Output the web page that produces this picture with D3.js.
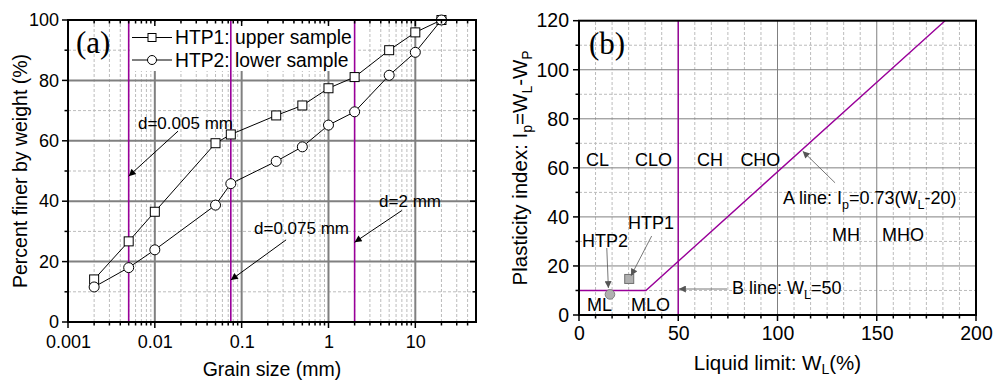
<!DOCTYPE html>
<html>
<head>
<meta charset="utf-8">
<script src="https://cdn.jsdelivr.net/npm/d3@7/dist/d3.min.js"></script>
<style>
  html, body { margin: 0; padding: 0; background: #fff; }
  svg { display: block; font-family: "Liberation Sans", Arial, sans-serif; }
</style>
</head>
<body>
<svg id="chart" width="993" height="380"></svg>
<script>
// ---- Panel (a): grain size distribution ----
const grainSize = [0.002, 0.005, 0.01, 0.05, 0.075, 0.25, 0.5, 1, 2, 5, 10, 20];
const htp1Finer = [14.1, 26.7, 36.5, 59.2, 62.1, 68.4, 71.7, 77.4, 81.1, 90.0, 95.9, 100];
const htp2Finer = [11.6, 18.0, 23.9, 38.7, 45.8, 53.2, 58.0, 65.2, 69.6, 81.7, 89.3, 100];
const seriesNames = ["HTP1: upper sample", "HTP2: lower sample"];
const gradeSizes = [0.005, 0.075, 2];
const gradeLabels = ["d=0.005 mm", "d=0.075 mm", "d=2 mm"];
const grainTicks = [0.001, 0.01, 0.1, 1, 10];
const grainTickLabels = ["0.001", "0.01", "0.1", "1", "10"];
const finerTicks = [0, 20, 40, 60, 80, 100];

// ---- Panel (b): plasticity chart ----
const sampleNames = ["HTP1", "HTP2"];
const sampleWL = [25.3, 15.6];
const sampleIp = [14.7, 8.4];
const aLineWL = [0, 33.7, 184.4];
const aLineIp = [10, 10, 120];
const bLineWL = 50;
const zoneNames = ["CL", "CLO", "CH", "CHO", "MH", "MHO", "ML", "MLO"];
const wlTicks = [0, 50, 100, 150, 200];
const ipTicks = [0, 20, 40, 60, 80, 100, 120];

const PURPLE = "#990099";
const GRID = "#808080";
const MINOR = "#bcbcbc";
const TICKA = 18;     // tick labels, panel (a)
const TICKB = 19.5;   // tick labels, panel (b)
const TITLE = 19.5;   // axis titles
const NOTE = 18;      // in-plot labels

const svg = d3.select("#chart");
const defs = svg.append("defs");
function marker(id, color) {
  defs.append("marker").attr("id", id)
    .attr("viewBox", "0 0 10 10").attr("refX", 10).attr("refY", 5)
    .attr("markerWidth", 9).attr("markerHeight", 7).attr("markerUnits", "userSpaceOnUse")
    .attr("orient", "auto")
    .append("path").attr("d", "M0,0 L10,5 L0,10 z").attr("fill", color);
}
marker("arrK", "#000");
marker("arrG", "#555");

function arrow(g, x1, y1, x2, y2, color, id, w) {
  g.append("line").attr("x1", x1).attr("y1", y1).attr("x2", x2).attr("y2", y2)
    .attr("stroke", color).attr("stroke-width", w).attr("marker-end", `url(#${id})`);
}
function sub(t, s, size, shift) {
  t.append("tspan").attr("font-size", size).attr("dy", shift).text(s);
}

// ================= Panel (a) =================
{
  const x = d3.scaleLog().domain([0.001, 50]).range([68, 476]);
  const y = d3.scaleLinear().domain([0, 100]).range([322, 20]);
  const g = svg.append("g");
  const [x0, x1] = x.range(), [y0, y1] = y.range();

  // minor log positions 2..9 in every decade
  const minorX = [];
  for (let e = -3; e <= 1; e++) for (let m = 2; m <= 9; m++) {
    const v = m * Math.pow(10, e);
    if (v < 50) minorX.push(v);
  }
  const minorY = [10, 30, 50, 70, 90];

  // dashed minor grid
  g.selectAll(".mgx").data(minorX).join("line")
    .attr("x1", d => x(d)).attr("x2", d => x(d)).attr("y1", y0).attr("y2", y1)
    .attr("stroke", MINOR).attr("stroke-width", 1).attr("stroke-dasharray", "3,2");
  g.selectAll(".mgy").data(minorY).join("line")
    .attr("x1", x0).attr("x2", x1).attr("y1", d => y(d)).attr("y2", d => y(d))
    .attr("stroke", MINOR).attr("stroke-width", 1).attr("stroke-dasharray", "3,2");
  // solid major grid
  g.selectAll(".Mgx").data(grainTicks.slice(1)).join("line")
    .attr("x1", d => x(d)).attr("x2", d => x(d)).attr("y1", y0).attr("y2", y1)
    .attr("stroke", GRID).attr("stroke-width", 2);
  g.selectAll(".Mgy").data(finerTicks.slice(1, -1)).join("line")
    .attr("x1", x0).attr("x2", x1).attr("y1", d => y(d)).attr("y2", d => y(d))
    .attr("stroke", GRID).attr("stroke-width", 2);

  // legend backdrop hides grid
  g.append("rect").attr("x", 130).attr("y", 22).attr("width", 226).attr("height", 49).attr("fill", "#fff");

  // grade boundary lines
  g.selectAll(".grade").data(gradeSizes).join("line")
    .attr("x1", d => x(d)).attr("x2", d => x(d)).attr("y1", y0).attr("y2", y1)
    .attr("stroke", PURPLE).attr("stroke-width", 1.6);

  // curves
  const line = d3.line().x(d => x(d[0])).y(d => y(d[1]));
  const s1 = grainSize.map((d, i) => [d, htp1Finer[i]]);
  const s2 = grainSize.map((d, i) => [d, htp2Finer[i]]);
  [s1, s2].forEach(s => g.append("path").datum(s).attr("d", line)
    .attr("fill", "none").attr("stroke", "#000").attr("stroke-width", 1));
  g.selectAll(".sq").data(s1).join("rect")
    .attr("x", d => x(d[0]) - 4.5).attr("y", d => y(d[1]) - 4.5)
    .attr("width", 9).attr("height", 9).attr("fill", "#fff").attr("stroke", "#000").attr("stroke-width", 1);
  g.selectAll(".ci").data(s2).join("circle")
    .attr("cx", d => x(d[0])).attr("cy", d => y(d[1])).attr("r", 5)
    .attr("fill", "#fff").attr("stroke", "#000").attr("stroke-width", 1);

  // legend
  const leg = g.append("g");
  [37.5, 60].forEach((ly, i) => {
    leg.append("line").attr("x1", 132).attr("x2", 172).attr("y1", ly).attr("y2", ly)
      .attr("stroke", "#000").attr("stroke-width", 1);
    if (i === 0) leg.append("rect").attr("x", 148).attr("y", ly - 4).attr("width", 8).attr("height", 8)
      .attr("fill", "#fff").attr("stroke", "#000");
    else leg.append("circle").attr("cx", 152).attr("cy", ly).attr("r", 4.5)
      .attr("fill", "#fff").attr("stroke", "#000");
    leg.append("text").attr("x", 175).attr("y", ly).attr("dy", "0.35em")
      .attr("font-size", 19.3).attr("fill", "#000").text(seriesNames[i]);
  });

  // annotations
  const ann = [
    { t: gradeLabels[0], tx: 0.0064, ty: 66, ax: 0.0185, ay: 63.2, bx: 0.005, by: 48.3 },
    { t: gradeLabels[1], tx: 0.139, ty: 31.1, ax: 0.325, ay: 27.2, bx: 0.075, by: 13.9 },
    { t: gradeLabels[2], tx: 3.83, ty: 40.2, ax: 6.98, ay: 36.9, bx: 2, by: 26.4 }
  ];
  ann.forEach(a => {
    g.append("text").attr("x", x(a.tx)).attr("y", y(a.ty)).attr("dy", "0.35em")
      .attr("font-size", 17).attr("fill", "#000").text(a.t);
    arrow(g, x(a.ax), y(a.ay), x(a.bx), y(a.by), "#000", "arrK", 1);
  });

  g.append("text").attr("x", 76).attr("y", 53).attr("font-family", "Liberation Serif, Times New Roman, serif")
    .attr("font-size", 31).text("(a)");

  // frame
  g.append("rect").attr("x", x0).attr("y", y1).attr("width", x1 - x0).attr("height", y0 - y1)
    .attr("fill", "none").attr("stroke", "#000").attr("stroke-width", 2);

  // ticks: bottom/left outward, top/right inward
  const tk = g.append("g").attr("stroke", "#000").attr("stroke-width", 1.5);
  grainTicks.forEach(v => {
    tk.append("line").attr("x1", x(v)).attr("x2", x(v)).attr("y1", y0).attr("y2", y0 + 6);
    tk.append("line").attr("x1", x(v)).attr("x2", x(v)).attr("y1", y1).attr("y2", y1 + 6);
  });
  minorX.forEach(v => {
    tk.append("line").attr("x1", x(v)).attr("x2", x(v)).attr("y1", y0).attr("y2", y0 + 3.5);
    tk.append("line").attr("x1", x(v)).attr("x2", x(v)).attr("y1", y1).attr("y2", y1 + 3.5);
  });
  finerTicks.forEach(v => {
    tk.append("line").attr("x1", x0 - 6).attr("x2", x0).attr("y1", y(v)).attr("y2", y(v));
    tk.append("line").attr("x1", x1 - 6).attr("x2", x1).attr("y1", y(v)).attr("y2", y(v));
  });
  minorY.forEach(v => {
    tk.append("line").attr("x1", x0 - 3.5).attr("x2", x0).attr("y1", y(v)).attr("y2", y(v));
    tk.append("line").attr("x1", x1 - 3.5).attr("x2", x1).attr("y1", y(v)).attr("y2", y(v));
  });

  // tick labels via d3 axes
  const xa = g.append("g").attr("transform", `translate(0,${y0})`)
    .call(d3.axisBottom(x).tickValues(grainTicks).tickSize(0).tickPadding(13)
      .tickFormat((d, i) => grainTickLabels[i]));
  const ya = g.append("g").attr("transform", `translate(${x0},0)`)
    .call(d3.axisLeft(y).tickValues(finerTicks).tickSize(0).tickPadding(9));
  [xa, ya].forEach(a => {
    a.select(".domain").remove();
    a.selectAll("text").attr("font-size", TICKA).attr("fill", "#000")
      .attr("font-family", "Liberation Sans, Arial, sans-serif");
  });

  g.append("text").attr("x", (x0 + x1) / 2).attr("y", 369).attr("dy", "0.35em")
    .attr("text-anchor", "middle").attr("font-size", TITLE).text("Grain size (mm)");
  g.append("text").attr("transform", `translate(20,${(y0 + y1) / 2}) rotate(-90)`)
    .attr("dy", "0.35em").attr("text-anchor", "middle").attr("font-size", TITLE)
    .text("Percent finer by weight (%)");
}

// ================= Panel (b) =================
{
  const x = d3.scaleLinear().domain([0, 200]).range([579, 976]);
  const y = d3.scaleLinear().domain([0, 120]).range([315, 20.7]);
  const g = svg.append("g");
  const [x0, x1] = x.range(), [y0, y1] = y.range();

  const minorX = [];
  for (let k = 1; k < 24; k++) if (k % 6 !== 0) minorX.push(k * 50 / 6);
  const minorY = [10, 30, 50, 70, 90, 110];

  g.selectAll(".mgx").data(minorX).join("line")
    .attr("x1", d => x(d)).attr("x2", d => x(d)).attr("y1", y0).attr("y2", y1)
    .attr("stroke", MINOR).attr("stroke-width", 1).attr("stroke-dasharray", "3,2");
  g.selectAll(".mgy").data(minorY).join("line")
    .attr("x1", x0).attr("x2", x1).attr("y1", d => y(d)).attr("y2", d => y(d))
    .attr("stroke", MINOR).attr("stroke-width", 1).attr("stroke-dasharray", "3,2");
  g.selectAll(".Mgx").data(wlTicks.slice(1, -1)).join("line")
    .attr("x1", d => x(d)).attr("x2", d => x(d)).attr("y1", y0).attr("y2", y1)
    .attr("stroke", GRID).attr("stroke-width", 1);
  g.selectAll(".Mgy").data(ipTicks.slice(1, -1)).join("line")
    .attr("x1", x0).attr("x2", x1).attr("y1", d => y(d)).attr("y2", d => y(d))
    .attr("stroke", GRID).attr("stroke-width", 1);

  // B line and A line
  g.append("line").attr("x1", x(bLineWL)).attr("x2", x(bLineWL)).attr("y1", y0).attr("y2", y1)
    .attr("stroke", PURPLE).attr("stroke-width", 1.4);
  g.append("path").datum(aLineWL.map((d, i) => [d, aLineIp[i]]))
    .attr("d", d3.line().x(d => x(d[0])).y(d => y(d[1])))
    .attr("fill", "none").attr("stroke", PURPLE).attr("stroke-width", 1.4);

  // samples
  g.append("rect").attr("x", x(sampleWL[0]) - 4.5).attr("y", y(sampleIp[0]) - 4.5)
    .attr("width", 9).attr("height", 9).attr("fill", "#b0b0b0").attr("stroke", "#707070");
  g.append("circle").attr("cx", x(sampleWL[1])).attr("cy", y(sampleIp[1])).attr("r", 4.8)
    .attr("fill", "#b0b0b0").attr("stroke", "#808080");

  const label = (wx, ip) => g.append("text").attr("x", x(wx)).attr("y", y(ip)).attr("dy", "0.35em")
    .attr("font-size", NOTE).attr("fill", "#000");

  // zone labels
  const zonePos = [[3.5, 63.2], [28.2, 63.2], [59.4, 63.2], [81.3, 63.2], [127.5, 32.6], [152.6, 32.6], [4.0, 4.1], [26.2, 4.1]];
  zoneNames.forEach((z, i) => label(zonePos[i][0], zonePos[i][1]).text(z));

  // sample labels with arrows
  label(24.7, 37.6).text(sampleNames[0]);
  arrow(g, x(36.6), y(32.2), x(26.2), y(16.0), "#555", "arrG", 0.8);
  label(1.5, 30.2).text(sampleNames[1]);
  arrow(g, x(14.0), y(27.3), x(14.8), y(11.0), "#555", "arrG", 0.8);

  // A line label
  const at = label(102.8, 47.7);
  at.append("tspan").text("A line: I");
  sub(at, "p", 12.5, 5);
  at.append("tspan").attr("dy", -5).text("=0.73(W");
  sub(at, "L", 12.5, 5);
  at.append("tspan").attr("dy", -5).text("-20)");
  arrow(g, x(129), y(53.9), x(112.7), y(66.8), "#555", "arrG", 0.8);

  // B line label
  const bt = label(77.1, 11.0);
  bt.append("tspan").text("B line: W");
  sub(bt, "L", 12.5, 5);
  bt.append("tspan").attr("dy", -5).text("=50");
  arrow(g, x(74.6), y(10.6), x(50.3), y(10.6), "#555", "arrG", 0.8);

  g.append("text").attr("x", 589).attr("y", 54).attr("font-family", "Liberation Serif, Times New Roman, serif")
    .attr("font-size", 31).text("(b)");

  g.append("rect").attr("x", x0).attr("y", y1).attr("width", x1 - x0).attr("height", y0 - y1)
    .attr("fill", "none").attr("stroke", "#000").attr("stroke-width", 2);

  const tk = g.append("g").attr("stroke", "#000").attr("stroke-width", 1.5);
  wlTicks.forEach(v => tk.append("line").attr("x1", x(v)).attr("x2", x(v)).attr("y1", y0).attr("y2", y0 + 6));
  minorX.forEach(v => tk.append("line").attr("x1", x(v)).attr("x2", x(v)).attr("y1", y0).attr("y2", y0 + 3.5));
  ipTicks.forEach(v => tk.append("line").attr("x1", x0 - 6).attr("x2", x0).attr("y1", y(v)).attr("y2", y(v)));
  minorY.forEach(v => tk.append("line").attr("x1", x0 - 3.5).attr("x2", x0).attr("y1", y(v)).attr("y2", y(v)));

  const xa = g.append("g").attr("transform", `translate(0,${y0})`)
    .call(d3.axisBottom(x).tickValues(wlTicks).tickSize(0).tickPadding(11));
  const ya = g.append("g").attr("transform", `translate(${x0},0)`)
    .call(d3.axisLeft(y).tickValues(ipTicks).tickSize(0).tickPadding(10));
  [xa, ya].forEach(a => {
    a.select(".domain").remove();
    a.selectAll("text").attr("font-size", TICKB).attr("fill", "#000")
      .attr("font-family", "Liberation Sans, Arial, sans-serif");
  });

  const xt = g.append("text").attr("x", (x0 + x1) / 2).attr("y", 363).attr("dy", "0.35em")
    .attr("text-anchor", "middle").attr("font-size", 20.5);
  xt.append("tspan").text("Liquid limit: W");
  sub(xt, "L", 14, 4);
  xt.append("tspan").attr("dy", -4).text("(%)");

  const yt = g.append("text").attr("transform", `translate(520,${(y0 + y1) / 2}) rotate(-90)`)
    .attr("dy", "0.35em").attr("text-anchor", "middle").attr("font-size", 20.5);
  yt.append("tspan").text("Plasticity index: I");
  sub(yt, "p", 14, 5);
  yt.append("tspan").attr("dy", -5).text("=W");
  sub(yt, "L", 14, 5);
  yt.append("tspan").attr("dy", -5).text("-W");
  sub(yt, "P", 14, 5);
}
</script>
</body>
</html>
